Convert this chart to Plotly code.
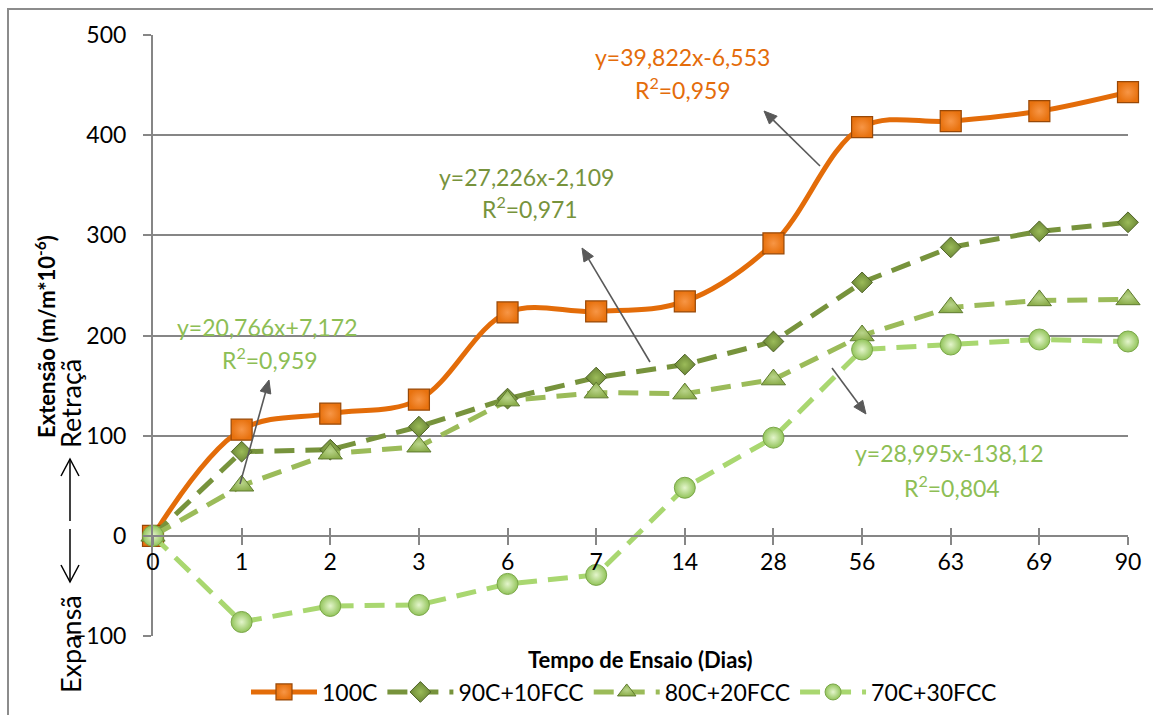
import math
import plotly.graph_objects as go

# Test ages (days) and measured strain for each mix
dias = ["0", "1", "2", "3", "6", "7", "14", "28", "56", "63", "69", "90"]
c100 = [0, 106, 122, 136, 223, 224, 234, 292, 408, 414, 424, 443]
c90_fcc10 = [0, 84, 86, 109, 137, 158, 171, 194, 253, 288, 304, 313]
c80_fcc20 = [0, 50, 82, 89, 135, 143, 142, 156, 200, 228, 235, 236]
c70_fcc30 = [0, -86, -70, -69, -48, -39, 48, 98, 186, 191, 196, 194]

y_ticks = [-100, 0, 100, 200, 300, 400, 500]

W, H = 1153, 715
ML, MR, MT, MB = 153, 25, 35, 79
PW, PH = W - ML - MR, H - MT - MB


def px(x):
    return (x - ML) / PW


def py(y):
    return (H - MB - y) / PH


FONT = "Lato, 'Open Sans', sans-serif"
GRID = "#868686"

fig = go.Figure()

series = [
    ("100C", c100, dict(color="#E36C09", width=5, shape="spline", smoothing=1.0),
     dict(symbol="square", size=21, color="#E8720F",
          gradient=dict(type="radial", color="#F79646"),
          line=dict(color="#984807", width=1.2))),
    ("90C+10FCC", c90_fcc10, dict(color="#77933C", width=5, dash="20px,11px"),
     dict(symbol="diamond", size=16, color="#6B8735",
          gradient=dict(type="radial", color="#9BBB59"),
          line=dict(color="#4F6228", width=1))),
    ("80C+20FCC", c80_fcc20, dict(color="#9BBB59", width=5, dash="20px,11px"),
     dict(symbol="triangle-up", size=21, color="#8CAE4C",
          gradient=dict(type="radial", color="#B9D48A"),
          line=dict(color="#5E7A2E", width=1))),
    ("70C+30FCC", c70_fcc30, dict(color="#A9D770", width=5, dash="20px,11px"),
     dict(symbol="circle", size=21, color="#92C45A",
          gradient=dict(type="radial", color="#E4F5CC"),
          line=dict(color="#7AA648", width=1))),
]

for name, vals, line, marker in series:
    fig.add_trace(go.Scatter(
        x=dias, y=vals, name=name, mode="lines+markers",
        line=line, marker=marker, cliponaxis=False,
    ))

# companion axis carrying the inner half of the crossing tick marks
fig.add_trace(go.Scatter(x=dias, y=[None] * len(dias), xaxis="x2",
                         showlegend=False, hoverinfo="skip"))

axis_x = dict(
    type="category", categoryorder="array", categoryarray=dias,
    range=[0, 11], anchor="free", position=py(536),
    showgrid=False, zeroline=False,
)

fig.update_layout(
    width=W, height=H,
    margin=dict(l=ML, r=MR, t=MT, b=MB, pad=0, autoexpand=False),
    paper_bgcolor="white", plot_bgcolor="white",
    font=dict(family=FONT, size=23, color="black"),
    xaxis=dict(**axis_x, showline=True, linecolor=GRID, linewidth=2,
               ticks="outside", ticklen=8, tickwidth=1.5, tickcolor=GRID,
               tickfont=dict(size=23), ticklabelstandoff=-3),
    xaxis2=dict(**axis_x, overlaying="x", showline=False,
                ticks="inside", ticklen=8, tickwidth=1.5, tickcolor=GRID,
                showticklabels=False),
    yaxis=dict(range=[-100, 500], tickvals=y_ticks, ticks="outside",
               ticklen=8, tickwidth=1.5, tickcolor=GRID,
               showgrid=True, gridcolor=GRID, gridwidth=1.5,
               showline=True, linecolor=GRID, linewidth=2,
               zeroline=True, zerolinecolor=GRID, zerolinewidth=2,
               tickfont=dict(size=23), ticklabelstandoff=12),
    legend=dict(orientation="h", x=px(624), xanchor="center",
                y=py(692), yanchor="middle", font=dict(size=23),
                itemwidth=66, bgcolor="rgba(0,0,0,0)", traceorder="normal"),
    showlegend=True,
)

annotations = []


def text(x, y, s, color="black", size=23, bold=False, angle=0):
    annotations.append(dict(
        x=px(x), y=py(y), xref="paper", yref="paper", showarrow=False,
        text=f"<b>{s}</b>" if bold else s, textangle=angle,
        xanchor="center", yanchor="middle",
        font=dict(family=FONT, size=size, color=color),
    ))


# trendline equations
ORANGE, OLIVE, LIGHT = "#E46C0A", "#77933C", "#8DBE55"
text(682, 57, "y=39,822x-6,553", ORANGE)
text(683, 88, "R<sup>2</sup>=0,959", ORANGE)
text(526, 177, "y=27,226x-2,109", OLIVE)
text(530, 208, "R<sup>2</sup>=0,971", OLIVE)
text(267, 327, "y=20,766x+7,172", LIGHT)
text(270, 358, "R<sup>2</sup>=0,959", LIGHT)
text(949, 453, "y=28,995x-138,12", LIGHT)
text(952, 486, "R<sup>2</sup>=0,804", LIGHT)

# axis titles
text(640, 659, "Tempo de Ensaio (Dias)", bold=True, size=22)
text(45, 337, "Extensão (m/m*10<sup>-6</sup>)", bold=True, size=22, angle=-90)
text(70, 404, "Retraçã", size=27, angle=-90)
text(70, 644, "Expansã", size=27, angle=-90)

fig.update_layout(annotations=annotations)


def path(points, close=False):
    d = "M " + " L ".join(f"{px(a):.5f},{py(b):.5f}" for a, b in points)
    return d + (" Z" if close else "")


shapes = [
    # chart frame
    dict(type="path", xref="paper", yref="paper",
         path=path([(8, 716), (8, 9), (1154, 9)]),
         line=dict(color="#8C8C8C", width=2)),
]

# direction arrows beside the axis title
for seg in ([(70, 521), (70, 459)], [(61, 476), (70, 459), (79, 476)],
            [(70, 529), (70, 582)], [(61, 565), (70, 582), (79, 565)]):
    shapes.append(dict(type="path", xref="paper", yref="paper", path=path(seg),
                       line=dict(color="black", width=1.5)))


def callout(tail, tip, head_len=13, head_half=5.5):
    dx, dy = tip[0] - tail[0], tip[1] - tail[1]
    n = math.hypot(dx, dy)
    ux, uy = dx / n, dy / n
    bx, by = tip[0] - ux * head_len, tip[1] - uy * head_len
    shapes.append(dict(type="path", xref="paper", yref="paper",
                       path=path([tail, (bx, by)]),
                       line=dict(color="#595959", width=1.6)))
    shapes.append(dict(type="path", xref="paper", yref="paper",
                       path=path([tip, (bx - uy * head_half, by + ux * head_half),
                                  (bx + uy * head_half, by - ux * head_half)], True),
                       fillcolor="#595959", line=dict(color="#595959", width=1)))


callout((820, 166), (764, 111))
callout((650, 362), (582, 248))
callout((240, 484), (269, 380))
callout((832, 368), (866, 414))

fig.update_layout(shapes=shapes)

fig.write_html("out.html")
